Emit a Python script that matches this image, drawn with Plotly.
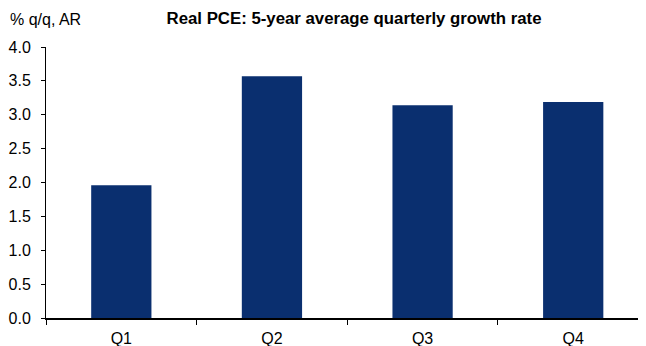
import plotly.graph_objects as go

categories = ["Q1", "Q2", "Q3", "Q4"]
values = [1.96, 3.57, 3.14, 3.19]
y_ticks = [0.0, 0.5, 1.0, 1.5, 2.0, 2.5, 3.0, 3.5, 4.0]
y_tick_labels = ["%.1f" % v for v in y_ticks]
title_text = "Real PCE: 5-year average quarterly growth rate"
y_title = "% q/q, AR"

font_family = "Liberation Sans, Arial, sans-serif"

# page has an 8px body margin; figure is sized to fill the remaining window
W, H = 638, 338
L, R, T, B = 38, 5, 39, 28
PW, PH = W - L - R, H - T - B

fig = go.Figure(
    go.Bar(
        x=categories,
        y=values,
        width=0.4,
        marker=dict(color="#0a2f6f", line=dict(width=0)),
    )
)

fig.update_layout(
    width=W,
    height=H,
    margin=dict(l=L, r=R, t=T, b=B),
    paper_bgcolor="white",
    plot_bgcolor="white",
    showlegend=False,
    font=dict(family=font_family, size=16, color="black"),
    title=dict(
        text="<b>" + title_text + "</b>",
        x=346 / W,
        xanchor="center",
        y=1 - 10 / H,
        yanchor="middle",
        font=dict(family=font_family, size=16.8, color="black"),
    ),
    annotations=[
        dict(
            text=y_title,
            xref="paper",
            yref="paper",
            x=(0 - L) / PW,
            y=1 + (T - 11) / PH,
            xanchor="left",
            yanchor="middle",
            showarrow=False,
            font=dict(family=font_family, size=16, color="black"),
        )
    ],
)

fig.update_xaxes(
    type="category",
    range=[-0.5, 3.45],
    automargin=False,
    showline=True,
    linecolor="black",
    linewidth=1.5,
    ticks="outside",
    tickson="boundaries",
    ticklen=5,
    tickcolor="black",
    tickwidth=1,
    showgrid=False,
    ticklabelstandoff=5,
    tickfont=dict(family=font_family, size=16, color="black"),
)

fig.update_yaxes(
    range=[0, 4],
    automargin=False,
    tickvals=y_ticks,
    ticktext=y_tick_labels,
    showline=True,
    linecolor="black",
    linewidth=1,
    ticks="outside",
    ticklen=4,
    tickcolor="black",
    tickwidth=1,
    showgrid=False,
    zeroline=False,
    ticklabelstandoff=7,
    tickfont=dict(family=font_family, size=16, color="black"),
)

fig.write_html("out.html")
